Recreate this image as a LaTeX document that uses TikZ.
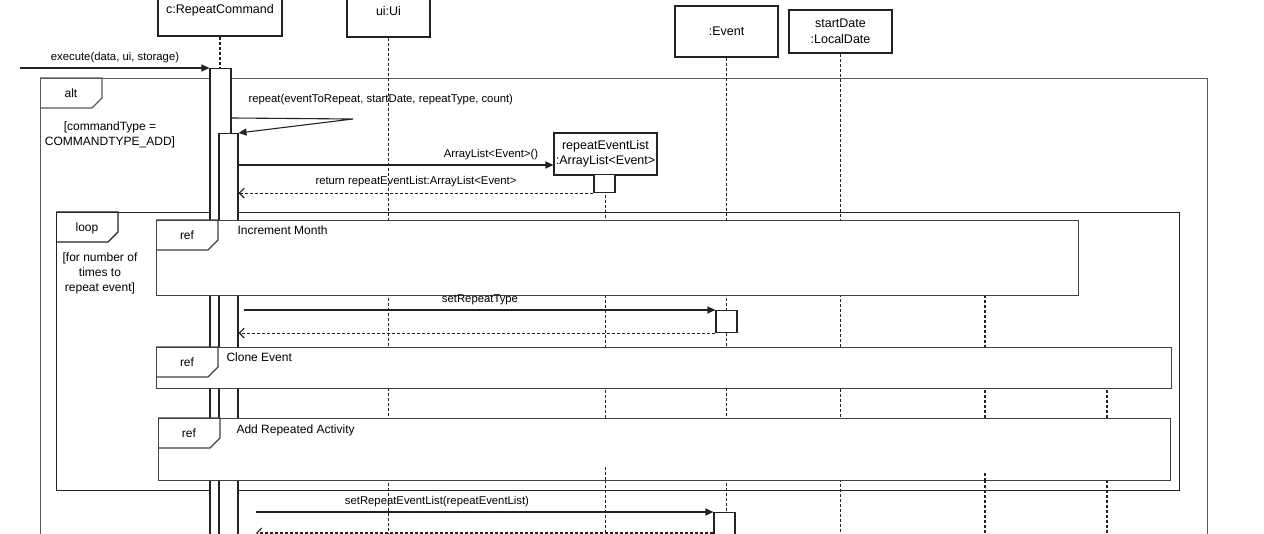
\documentclass[tikz,border=0pt]{standalone}
\usepackage{fontspec}
\setmainfont{Liberation Sans}
\usetikzlibrary{arrows.meta,positioning}
\definecolor{seqline}{RGB}{34,34,34}

\begin{document}
\begin{tikzpicture}[x=1pt, y=-1pt, font=\fontsize{11.3}{13}\selectfont, line width=1.1pt]
    \tikzstyle{head}=[draw=seqline, fill=white, align=center, inner sep=0pt,
      font=\fontsize{12.5}{15.5}\selectfont]
    \tikzstyle{actbox}=[draw=seqline, fill=white, inner sep=0pt, anchor=north]
    \tikzstyle{life}=[seqline, dash pattern=on 3pt off 2pt]
    \tikzstyle{frame}=[draw=seqline, inner sep=0pt, anchor=north west]
    \tikzstyle{refbox}=[draw=black!75, fill=white, inner sep=0pt, anchor=north west]
    \tikzstyle{tabtxt}=[font=\fontsize{12}{15}\selectfont, align=center, inner sep=0pt]
    \tikzstyle{call}=[-{Triangle[length=8pt,width=7pt]}, seqline]
    \tikzstyle{ret}=[-{Straight Barb[length=5pt,width=10pt]}, seqline, dash pattern=on 3pt off 2pt]
    \tikzstyle{msglbl}=[inner sep=1pt]

    \fill[white] (0,0) rectangle (1264,534);
    \useasboundingbox (0,0) rectangle (1264,534);
    \clip (0,0) rectangle (1264,534);

    \node[head, minimum width=124pt, minimum height=51pt] (rc) at (220,10.5) {c:RepeatCommand};
    \node[head, minimum width=83pt, minimum height=52pt] (ui) at (388.5,11) {ui:Ui};
    \node[head, minimum width=103pt, minimum height=51pt] (ev) at (726.5,31.5) {:Event};
    \node[head, minimum width=103pt, minimum height=43pt] (sd) at (840.5,31.5) {startDate\\:LocalDate};

    \node[frame, draw=black!65, minimum width=1167pt, minimum height=500pt] (alt) at (40,78) {};
    \node[frame, minimum width=1123pt, minimum height=278pt] (loop) at (56,212) {};

    \draw[life] (rc.south) -- ++(0,500);
    \draw[life] (ui.south) -- ++(0,500);
    \draw[life] (ev.south) -- ++(0,500);
    \draw[life] (sd.south) -- ++(0,500);
    \draw[life] (605.5,175) -- ++(0,400);
    \coordinate (newa) at (985,230);
    \coordinate (newb) at (1107,360);
    \draw[life] (newa) -- ++(0,320);
    \draw[life] (newb) -- ++(0,200);

    \node[head, minimum width=103pt, minimum height=42pt] (lst) at (605.5,154)
      {repeatEventList\\:ArrayList<Event>};

    \node[actbox, minimum width=21pt, minimum height=480pt] (act1) at (220.5,68) {};
    \node[actbox, minimum width=19pt, minimum height=420pt] (act2) at (228.5,133) {};
    \node[actbox, minimum width=21pt, minimum height=18pt] (lsta) at (604.5,174) {};
    \node[actbox, minimum width=21pt, minimum height=22pt] (eva) at (726.5,310) {};
    \node[actbox, minimum width=21pt, minimum height=40pt] (evb) at (724.5,512) {};

    \node[refbox, minimum width=922pt, minimum height=75pt] (incm) at (156,220) {};
    \node[refbox, minimum width=1015pt, minimum height=41pt] (clone) at (156,347) {};
    \node[refbox, minimum width=1012pt, minimum height=62pt] (addr) at (158,418) {};

    \draw[life] (lst.south |- 0,467) -- (lst.south |- addr.south);
    \draw[life] (newa |- 0,473) -- (newa |- addr.south);

    \draw[draw=black!65] (alt.north west) -- ++(62,0) -- ++(0,20) -- ++(-10,10) -- ++(-52,0);
    \node[tabtxt] (altt) at (71,93) {alt};
    \node[tabtxt] (altg) at (110,134.5) {[commandType =\\COMMANDTYPE\_ADD]};

    \draw[seqline] (loop.north west) -- ++(62,0) -- ++(0,20) -- ++(-10,10) -- ++(-52,0);
    \node[tabtxt] (loopt) at (87,228) {loop};
    \node[tabtxt] (loopg) at (100,273) {[for number of\\times to\\repeat event]};

    \foreach \r in {incm,clone,addr}
      {\draw[black!75] (\r.north west) -- ++(62,0) -- ++(0,20) -- ++(-10,10) -- ++(-52,0);
       \node[tabtxt] (\r-t) at ([xshift=31pt,yshift=-15pt]\r.north west) {ref};}
    \node[tabtxt, anchor=west] (incml) at (237,230) {Increment Month};
    \node[tabtxt, anchor=west] (clonel) at (226,357) {Clone Event};
    \node[tabtxt, anchor=west] (addrl) at (236,430) {Add Repeated Activity};

    \coordinate (start) at (20,68);
    \draw[call] (start) -- (act1.north west);
    \node[msglbl] (exl) at (115,58) {execute(data, ui, storage)};

    \coordinate (turn) at (353,119);
    \draw[call] ([yshift=-50pt]act1.north east) -- (turn) -- (act2.north east);
    \node[msglbl, anchor=west] (repl) at (247,100) {repeat(eventToRepeat, startDate, repeatType, count)};

    \draw[call] ([yshift=-32pt]act2.north east) -- ([yshift=-32pt]act2.north east -| lst.west);
    \node[msglbl] (newl) at (491,155) {ArrayList<Event>()};
    \draw[ret] (lsta.south west) -- (act2.east |- lsta.south);
    \node[msglbl] (retl) at (416,182) {return repeatEventList:ArrayList<Event>};

    \draw[call] ([xshift=5pt]act2.east |- eva.north) -- (eva.north west);
    \node[msglbl] (typel) at (480,300) {setRepeatType};
    \draw[ret] (eva.south west) -- (act2.east |- eva.south);

    \coordinate (srel) at (256,512);
    \draw[call] (srel) -- (evb.north west);
    \node[msglbl] (listl) at (437,502) {setRepeatEventList(repeatEventList)};
    \draw[ret] (evb.west |- 0,533) -- (srel |- 0,533);
\end{tikzpicture}
\end{document}
